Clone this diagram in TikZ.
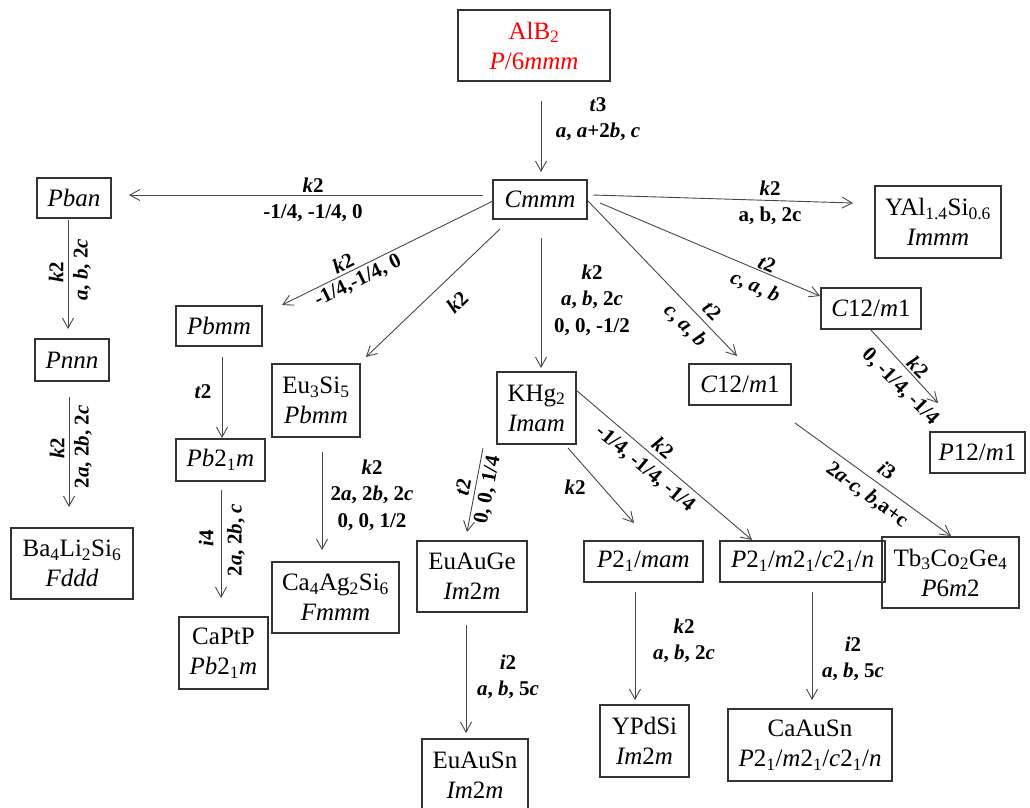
\documentclass[tikz,border=0pt]{standalone}
\usepackage{fontspec}
\setmainfont{Liberation Serif}
\usetikzlibrary{calc,arrows.meta}
\newcommand\iv[1]{\textit{#1}}
\newcommand\sbs[1]{\textsubscript{#1}}
\begin{document}
\begin{tikzpicture}[x=1pt,y=-1pt,
  box/.style={draw=black!80, line width=1.1pt, inner sep=0pt, align=center,
    font=\fontsize{25}{30}\selectfont},
  sz/.style 2 args={minimum width=#1pt, minimum height=#2pt},
  arr/.style={draw=black!72, line width=0.9pt,
    -{Straight Barb[length=10pt,width=11pt,line width=0.9pt]}},
  lab/.style={inner sep=0pt, align=center,
    font=\fontsize{21}{26.5}\selectfont\bfseries}
]
\useasboundingbox (0,0) rectangle (1030,807);

% ---- structures (boxes) ----
\node[box, sz={152}{71}, text=red] (alb) at (534,45.5) {AlB\sbs{2}\\\iv{P}/6\iv{mmm}};
\node[box, sz={94}{39}]  (cmmm)   at (540,199.5) {\iv{Cmmm}};
\node[box, sz={74}{40}]  (pban)   at (74,198)    {\iv{Pban}};
\node[box, sz={126}{72}] (yal)    at (938,222)   {YAl\sbs{1.4}Si\sbs{0.6}\\\iv{Immm}};
\node[box, sz={100}{41}] (c12r)   at (871,308.5) {\iv{C}12/\iv{m}1};
\node[box, sz={86}{40}]  (pbmm)   at (219,326)   {\iv{Pbmm}};
\node[box, sz={74}{42}]  (pnnn)   at (72,360)    {\iv{Pnnn}};
\node[box, sz={88}{73}]  (eusi)   at (316,400.5) {Eu\sbs{3}Si\sbs{5}\\\iv{Pbmm}};
\node[box, sz={89}{42}]  (pbtwo)  at (220.5,460) {\iv{Pb}2\sbs{1}\iv{m}};
\node[box, sz={122}{71}] (ba)     at (72,563.5)  {Ba\sbs{4}Li\sbs{2}Si\sbs{6}\\\iv{Fddd}};
\node[box, sz={79}{72}]  (khg)    at (536.5,408) {KHg\sbs{2}\\\iv{Imam}};
\node[box, sz={102}{41}] (c12m)   at (740,384.5) {\iv{C}12/\iv{m}1};
\node[box, sz={95}{41}]  (ptwelve) at (977.5,452.5) {\iv{P}12/\iv{m}1};
\node[box, sz={137}{71}] (tb)     at (950.5,572.5) {Tb\sbs{3}Co\sbs{2}Ge\sbs{4}\\\iv{P}6\iv{m}2};
\node[box, sz={110}{71}] (euge)   at (472,576.5) {EuAuGe\\\iv{Im}2\iv{m}};
\node[box, sz={119}{41}] (pmam)   at (643.5,561.5) {\iv{P}2\sbs{1}/\iv{mam}};
\node[box, sz={165}{41}] (pmcn)   at (802.5,561.5) {\iv{P}2\sbs{1}/\iv{m}2\sbs{1}/\iv{c}2\sbs{1}/\iv{n}};
\node[box, sz={127}{71}] (caag)   at (335.5,597.5) {Ca\sbs{4}Ag\sbs{2}Si\sbs{6}\\\iv{Fmmm}};
\node[box, sz={89}{72}]  (captp)  at (223.5,653) {CaPtP\\\iv{Pb}2\sbs{1}\iv{m}};
\node[box, sz={106}{72}] (eusn)   at (475,775) {EuAuSn\\\iv{Im}2\iv{m}};
\node[box, sz={89}{72}]  (ypdsi)  at (644.5,741) {YPdSi\\\iv{Im}2\iv{m}};
\node[box, sz={164}{72}] (caausn) at (810,745) {CaAuSn\\\iv{P}2\sbs{1}/\iv{m}2\sbs{1}/\iv{c}2\sbs{1}/\iv{n}};

% ---- group-subgroup relations ----
\draw[arr] ($(alb)+(7,55)$)       -- ($(cmmm)+(1,-27.5)$);
\draw[arr] ($(cmmm)+(-57,-4.5)$)  -- ($(pban)+(55,-3)$);
\draw[arr] ($(cmmm)+(53,-4.5)$)   -- ($(yal)+(-85,-19)$);
\draw[arr] ($(cmmm)+(-47,1.5)$)   -- ($(pbmm)+(63,-21)$);
\draw[arr] ($(cmmm)+(-40,29.5)$)  -- ($(eusi)+(50,-43.5)$);
\draw[arr] ($(cmmm)+(1,38.5)$)    -- ($(khg)+(4.5,-40)$);
\draw[arr] ($(cmmm)+(48,1.5)$)    -- ($(c12m)+(-3,-28.5)$);
\draw[arr] ($(cmmm)+(60,3.5)$)    -- ($(c12r)+(-51,-12.5)$);
\draw[arr] ($(c12r)+(-1,20.5)$)   -- ($(ptwelve)+(-39.5,-49.5)$);
\draw[arr] ($(c12m)+(55,38.5)$)   -- ($(tb)+(0.5,-36.5)$);
\draw[arr] ($(khg)+(-53.5,40)$)   -- ($(euge)+(-5,-44.5)$);
\draw[arr] ($(khg)+(31.5,40)$)    -- ($(pmam)+(-9.5,-38.5)$);
\draw[arr] ($(khg)+(39.5,-18)$)   -- ($(pmcn)+(-50.5,-21.5)$);
\draw[arr] ($(pban)+(-6,22)$)     -- ($(pnnn)+(-4,-31)$);
\draw[arr] ($(pnnn)+(-3,37)$)     -- ($(ba)+(-3,-56.5)$);
\draw[arr] ($(pbmm)+(3,31)$)      -- ($(pbtwo)+(1.5,-22)$);
\draw[arr] ($(pbtwo)+(0.5,30)$)   -- ($(captp)+(-2.5,-55)$);
\draw[arr] ($(eusi)+(6,51.5)$)    -- ($(caag)+(-13.5,-47.5)$);
\draw[arr] ($(euge)+(-6,48.5)$)   -- ($(eusn)+(-9,-42)$);
\draw[arr] ($(pmam)+(-8.5,30.5)$) -- ($(ypdsi)+(-9.5,-41)$);
\draw[arr] ($(pmcn)+(9.5,30.5)$)  -- ($(caausn)+(2,-45)$);

% ---- index and basis/origin labels ----
\node[lab] (l1)  at (598,119) {\iv{t}3\\\iv{a}, \iv{a}+2\iv{b}, \iv{c}};
\node[lab] (l2)  at (313,200) {\iv{k}2\\-1/4, -1/4, 0};
\node[lab] (l3)  at (770,203) {\iv{k}2\\a, b, 2c};
\node[lab, rotate=26] (l4a) at (343,263) {\iv{k}2};
\node[lab, rotate=26] (l4b) at (358,281) {-1/4,-1/4, 0};
\node[lab, rotate=44] (l5)  at (457,302) {\iv{k}2};
\node[lab] (l6)  at (592,300) {\iv{k}2\\\iv{a}, \iv{b}, 2\iv{c}\\0, 0, -1/2};
\node[lab, rotate=-45] (l7a) at (712,311) {\iv{t}2};
\node[lab, rotate=-45] (l7b) at (685,326) {\iv{c}, \iv{a}, \iv{b}};
\node[lab, rotate=-23] (l8a) at (767,264) {\iv{t}2};
\node[lab, rotate=-23] (l8b) at (755,287) {\iv{c}, \iv{a}, \iv{b}};
\node[lab, rotate=-45] (l9a) at (918,367) {\iv{k}2};
\node[lab, rotate=-45] (l9b) at (900,387) {0, -1/4, -1/4};
\node[lab, rotate=-36] (l10a) at (887,470) {\iv{i}3};
\node[lab, rotate=-36] (l10b) at (867,495) {2\iv{a}-\iv{c}, \iv{b},a+c};
\node[lab, rotate=79] (l11a) at (463,487) {\iv{t}2};
\node[lab, rotate=79] (l11b) at (488,490) {0, 0, 1/4};
\node[lab] (l12) at (575,487) {\iv{k}2};
\node[lab, rotate=-40] (l13a) at (663,448) {\iv{k}2};
\node[lab, rotate=-40] (l13b) at (645,469) {-1/4, -1/4, -1/4};
\node[lab, rotate=90] (l14a) at (56,272) {\iv{k}2};
\node[lab, rotate=90] (l14b) at (82,270) {\iv{a}, \iv{b}, 2\iv{c}};
\node[lab, rotate=90] (l15a) at (57,448) {\iv{k}2};
\node[lab, rotate=90] (l15b) at (83,447) {2\iv{a}, 2\iv{b}, 2\iv{c}};
\node[lab] (l16) at (203,392) {\iv{t}2};
\node[lab, rotate=90] (l17a) at (206,538) {\iv{i}4};
\node[lab, rotate=90] (l17b) at (236,540) {2\iv{a}, 2\iv{b}, \iv{c}};
\node[lab] (l18) at (372,495) {\iv{k}2\\2\iv{a}, 2\iv{b}, 2\iv{c}\\0, 0, 1/2};
\node[lab] (l19) at (508,677) {\iv{i}2\\\iv{a}, \iv{b}, 5\iv{c}};
\node[lab] (l20) at (684,641) {\iv{k}2\\\iv{a}, \iv{b}, 2\iv{c}};
\node[lab] (l21) at (853,659) {\iv{i}2\\\iv{a}, \iv{b}, 5\iv{c}};
\end{tikzpicture}
\end{document}
